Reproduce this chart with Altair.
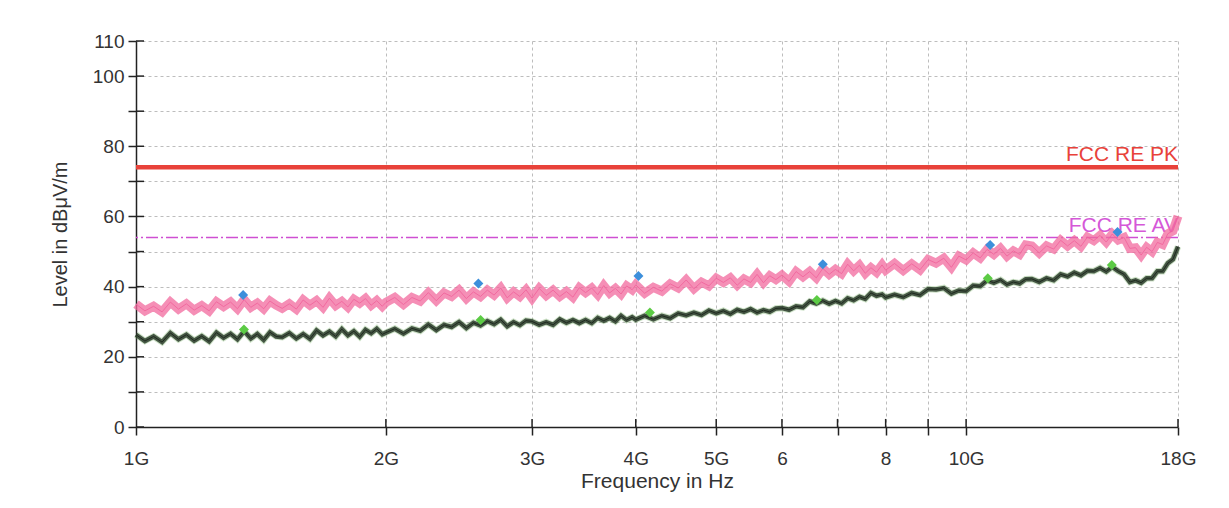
import altair as alt
import pandas as pd

# ---------------- data ----------------
freq_ghz = [
    1.000, 1.025, 1.050, 1.075, 1.100, 1.125, 1.150, 1.175, 1.200, 1.225,
    1.250, 1.275, 1.300, 1.325, 1.350, 1.375, 1.400, 1.425, 1.450, 1.475,
    1.50, 1.53, 1.56, 1.59, 1.62, 1.65, 1.68, 1.71, 1.74, 1.77, 1.80, 1.83,
    1.86, 1.89, 1.92, 1.95, 1.98,
    2.00, 2.05, 2.10, 2.15, 2.20, 2.25, 2.30, 2.35, 2.40, 2.45, 2.50, 2.55,
    2.60, 2.65, 2.70, 2.75, 2.80, 2.85, 2.90, 2.95,
    3.00, 3.06, 3.12, 3.18, 3.24, 3.30, 3.36, 3.42, 3.48, 3.54, 3.60, 3.66,
    3.72, 3.78, 3.84, 3.90, 3.96,
    4.0, 4.1, 4.2, 4.3, 4.4, 4.5, 4.6, 4.7, 4.8, 4.9, 5.0, 5.1, 5.2, 5.3,
    5.4, 5.5, 5.6, 5.7, 5.8, 5.9,
    6.00, 6.12, 6.24, 6.36, 6.48, 6.60, 6.72, 6.84, 6.96, 7.08, 7.20, 7.32,
    7.44, 7.56, 7.68, 7.80, 7.92,
    8.0, 8.2, 8.4, 8.6, 8.8, 9.0, 9.2, 9.4, 9.6, 9.8, 10.0, 10.2, 10.4, 10.6,
    10.8, 11.0, 11.2, 11.4, 11.6, 11.8,
    12.0, 12.25, 12.5, 12.75, 13.0, 13.25, 13.5, 13.75, 14.0, 14.25, 14.5,
    14.75, 15.0, 15.25, 15.5, 15.75, 16.0, 16.25, 16.5, 16.75, 17.0, 17.25,
    17.5, 17.75, 18.0,
]

peak_dbuv = [
    35.0, 33.1, 34.4, 32.8, 35.6, 33.6, 35.1, 33.3, 34.6, 33.1,
    35.7, 34.3, 35.6, 33.7, 36.3, 34.1, 35.3, 33.7, 35.9, 34.7,
    33.8, 35.1, 33.6, 36.2, 34.7, 36.0, 34.1, 36.7, 34.6, 35.8, 34.2, 36.4,
    35.3, 36.6, 34.7, 36.0, 34.4,
    35.5, 36.9, 34.9, 36.9, 35.9, 38.3, 36.0, 38.2, 37.2, 39.0, 36.6, 38.5,
    37.2, 39.0, 37.6, 39.6, 36.8, 38.5, 37.2, 39.1,
    36.7, 39.5, 37.5, 39.0, 37.2, 38.6, 37.0, 39.7, 38.3, 39.6, 37.7, 40.3,
    38.2, 39.5, 37.9, 40.2, 39.1,
    40.5, 38.1, 39.8, 38.7, 40.8, 39.6, 41.9, 39.4, 41.3, 40.2, 42.4, 41.2,
    42.5, 40.4, 42.2, 41.2, 43.5, 41.1, 43.1, 42.0,
    43.3, 41.5, 44.3, 42.8, 44.3, 42.5, 45.2, 43.5, 44.9, 43.7, 46.4, 44.5,
    46.1, 43.8, 45.4, 44.1, 46.2,
    44.7, 46.6, 44.6, 46.5, 44.8, 47.7, 46.7, 48.1, 45.5, 48.7, 47.6, 49.6,
    48.2, 50.6, 49.2, 50.9, 48.7, 50.2, 49.2, 51.9,
    51.6, 49.6, 51.6, 50.7, 53.2, 51.6, 53.1, 51.5, 54.1, 53.1, 54.6, 52.7,
    55.0, 53.3, 54.0, 50.9, 51.1, 49.0, 51.2, 50.0, 52.6, 52.0, 55.1, 55.9,
    60.1,
]

avg_dbuv = [
    26.3, 24.5, 25.8, 24.2, 26.8, 25.0, 26.3, 24.6, 25.9, 24.4,
    26.9, 25.4, 26.6, 25.0, 27.3, 25.2, 26.5, 24.8, 27.0, 25.8,
    25.6, 26.8, 25.2, 26.5, 25.1, 27.5, 26.1, 27.2, 25.8, 27.9, 26.1, 27.3,
    25.7, 27.7, 26.7, 28.0, 26.4,
    26.9, 28.0, 26.6, 28.1, 27.4, 29.2, 27.6, 29.1, 28.5, 29.9, 28.2, 29.7,
    28.9, 30.2, 29.3, 30.6, 28.7, 29.9, 29.0, 30.3,
    30.1, 29.1, 29.9, 29.1, 30.7, 29.7, 30.5, 29.6, 30.5, 29.6, 31.1, 30.3,
    31.1, 30.1, 31.7, 30.5, 31.3,
    30.6, 31.7, 30.7, 31.7, 31.0, 32.4, 31.8, 32.6, 31.9, 33.2, 32.4, 33.1,
    32.2, 33.4, 32.8, 33.6, 32.6, 33.3, 32.8, 33.8,
    33.9, 33.4, 34.4, 34.1, 35.8, 35.2, 36.0, 35.1, 35.9, 35.2, 36.7, 36.1,
    37.1, 36.5, 38.2, 37.4, 37.8,
    36.9, 37.7, 37.0, 38.2, 37.6, 39.3, 39.2, 39.6, 38.0, 38.9, 38.7, 40.3,
    40.1, 41.8, 41.1, 41.9, 40.6, 41.3, 40.9, 42.1,
    42.2, 41.3, 42.4, 41.8, 43.5, 42.9, 44.0, 43.2, 44.5, 44.4, 45.3, 44.3,
    45.6, 44.4, 43.5, 41.3, 41.8, 41.1, 42.4, 42.4, 44.4, 44.4, 46.7, 47.8,
    51.4,
]

peak_marker_f = [1.346, 2.585, 4.03, 6.72, 10.69, 15.22]
peak_marker_l = [37.6, 40.9, 43.0, 46.4, 51.85, 55.6]
avg_marker_f = [1.349, 2.601, 4.16, 6.61, 10.62, 14.98]
avg_marker_l = [27.8, 30.5, 32.6, 36.2, 42.4, 46.2]

limit_names = ["FCC RE PK", "FCC RE AV"]
limit_levels = [74, 54]
limit_colors = ["#E8423A", "#D558D8"]

x_ticks = [1, 2, 3, 4, 5, 6, 7, 8, 9, 10, 18]
x_tick_labels = ["1G", "2G", "3G", "4G", "5G", "6", "", "8", "", "10G", "18G"]
y_ticks = [0, 10, 20, 30, 40, 50, 60, 70, 80, 90, 100, 110]
y_tick_labels = ["0", "", "20", "", "40", "", "60", "", "80", "", "100", "110"]

x_domain = [1, 18]
y_domain = [0, 110]


def label_expr(values, labels):
    parts = [f"datum.value == {v} ? '{t}'" for v, t in zip(values, labels)]
    return " : ".join(parts) + " : ''"


FONT = "Liberation Sans"
GRID = "#BDBDBD"
INK = "#333333"

trace_df = pd.DataFrame({"f": freq_ghz, "pk": peak_dbuv, "av": avg_dbuv})
pk_mk = pd.DataFrame({"f": peak_marker_f, "l": peak_marker_l})
av_mk = pd.DataFrame({"f": avg_marker_f, "l": avg_marker_l})
lim_df = pd.DataFrame({"name": limit_names, "level": limit_levels,
                       "color": limit_colors, "fx": [x_domain[1]] * 2})
xt_df = pd.DataFrame({"f": x_ticks[1:]})
yt_df = pd.DataFrame({"l": y_ticks})

x_scale = alt.Scale(type="log", domain=x_domain, nice=False)
y_scale = alt.Scale(domain=y_domain, nice=False, zero=False)

x_axis = alt.Axis(
    values=x_ticks, tickCount=30, labelExpr=label_expr(x_ticks, x_tick_labels),
    title="Frequency in Hz", grid=True, gridDash=[3, 3], gridColor=GRID,
    tickSize=8, labelPadding=14, titlePadding=2,
    labelFont=FONT, labelFontSize=19, labelColor=INK,
    titleFont=FONT, titleFontSize=21, titleFontWeight="normal", titleColor=INK,
    domainColor="#222222", domainWidth=1.5, tickColor="#222222", tickWidth=1.5,
    labelFlush=False, labelOverlap=False,
)
y_axis = alt.Axis(
    values=y_ticks, tickCount=30, labelExpr=label_expr(y_ticks, y_tick_labels),
    title="Level in dBμV/m", grid=True, gridDash=[3, 3], gridColor=GRID,
    tickSize=8, labelPadding=4, titlePadding=22,
    labelFont=FONT, labelFontSize=19, labelColor=INK,
    titleFont=FONT, titleFontSize=20, titleFontWeight="normal", titleColor=INK,
    domainColor="#222222", domainWidth=1.5, tickColor="#222222", tickWidth=1.5,
    labelFlush=False, labelOverlap=False,
)

# axes carrier (an invisible point layer so the axes are drawn)
axes_layer = alt.Chart(trace_df).mark_point(opacity=0).encode(
    x=alt.X("f:Q", scale=x_scale, axis=x_axis),
    y=alt.Y("pk:Q", scale=y_scale, axis=y_axis),
)

lim_text = alt.Chart(lim_df).mark_text(
    align="right", baseline="bottom", dy=-2, font=FONT, fontSize=21
).encode(
    x=alt.X("fx:Q", scale=x_scale),
    y=alt.Y("level:Q", scale=y_scale),
    text="name:N",
    color=alt.Color("color:N", scale=None),
)

pk_line = alt.Chart(lim_df.iloc[[0]]).mark_rule(color="#E8423A", strokeWidth=4.5).encode(
    y=alt.Y("level:Q", scale=y_scale)
)
av_line = alt.Chart(lim_df.iloc[[1]]).mark_rule(
    color="#CF4FD2", strokeWidth=1.3, strokeDash=[12, 3, 2, 3]
).encode(y=alt.Y("level:Q", scale=y_scale))

enc_pk = dict(x=alt.X("f:Q", scale=x_scale), y=alt.Y("pk:Q", scale=y_scale))
enc_av = dict(x=alt.X("f:Q", scale=x_scale), y=alt.Y("av:Q", scale=y_scale))

pink_under = alt.Chart(trace_df).mark_line(color="#F26A9E", strokeWidth=9, opacity=0.75).encode(**enc_pk)
pink = alt.Chart(trace_df).mark_line(color="#F0609A", strokeWidth=1.0, opacity=0.8).encode(**enc_pk)
green_fringe = alt.Chart(trace_df).mark_line(color="#6DAA5C", strokeWidth=6.5, opacity=0.35).encode(**enc_av)
green_under = alt.Chart(trace_df).mark_line(color="#2C3C2C", strokeWidth=4.5, opacity=0.85).encode(**enc_av)
green = alt.Chart(trace_df).mark_line(color="#1E2A1E", strokeWidth=1.0).encode(**enc_av)

# inner half of the crossing ticks
xt_inner = alt.Chart(xt_df).mark_rule(color="#222222", strokeWidth=1.5).encode(
    x=alt.X("f:Q", scale=x_scale), y=alt.YDatum(0, scale=y_scale), y2=alt.Y2Datum(2.3)
)
yt_inner = alt.Chart(yt_df).mark_rule(color="#222222", strokeWidth=1.5).encode(
    y=alt.Y("l:Q", scale=y_scale), x=alt.XDatum(1, scale=x_scale), x2=alt.X2Datum(1.0225)
)

pk_pts = alt.Chart(pk_mk).mark_point(shape="diamond", filled=True, size=100, color="#3D8FDB", opacity=1).encode(
    x=alt.X("f:Q", scale=x_scale), y=alt.Y("l:Q", scale=y_scale)
)
av_pts = alt.Chart(av_mk).mark_point(shape="diamond", filled=True, size=100, color="#5CCB45", opacity=1).encode(
    x=alt.X("f:Q", scale=x_scale), y=alt.Y("l:Q", scale=y_scale)
)

chart = alt.layer(
    axes_layer, lim_text, pk_line, av_line,
    pink_under, pink, green_fringe, green_under, green,
    xt_inner, yt_inner, pk_pts, av_pts,
).properties(
    width=1042, height=386,
    autosize=alt.AutoSizeParams(type="none"),
    padding={"left": 128, "top": 33, "right": 35, "bottom": 67},
    background="white",
).configure_view(stroke=None)

chart.save("out.html", embed_options={"renderer": "svg", "actions": False})
